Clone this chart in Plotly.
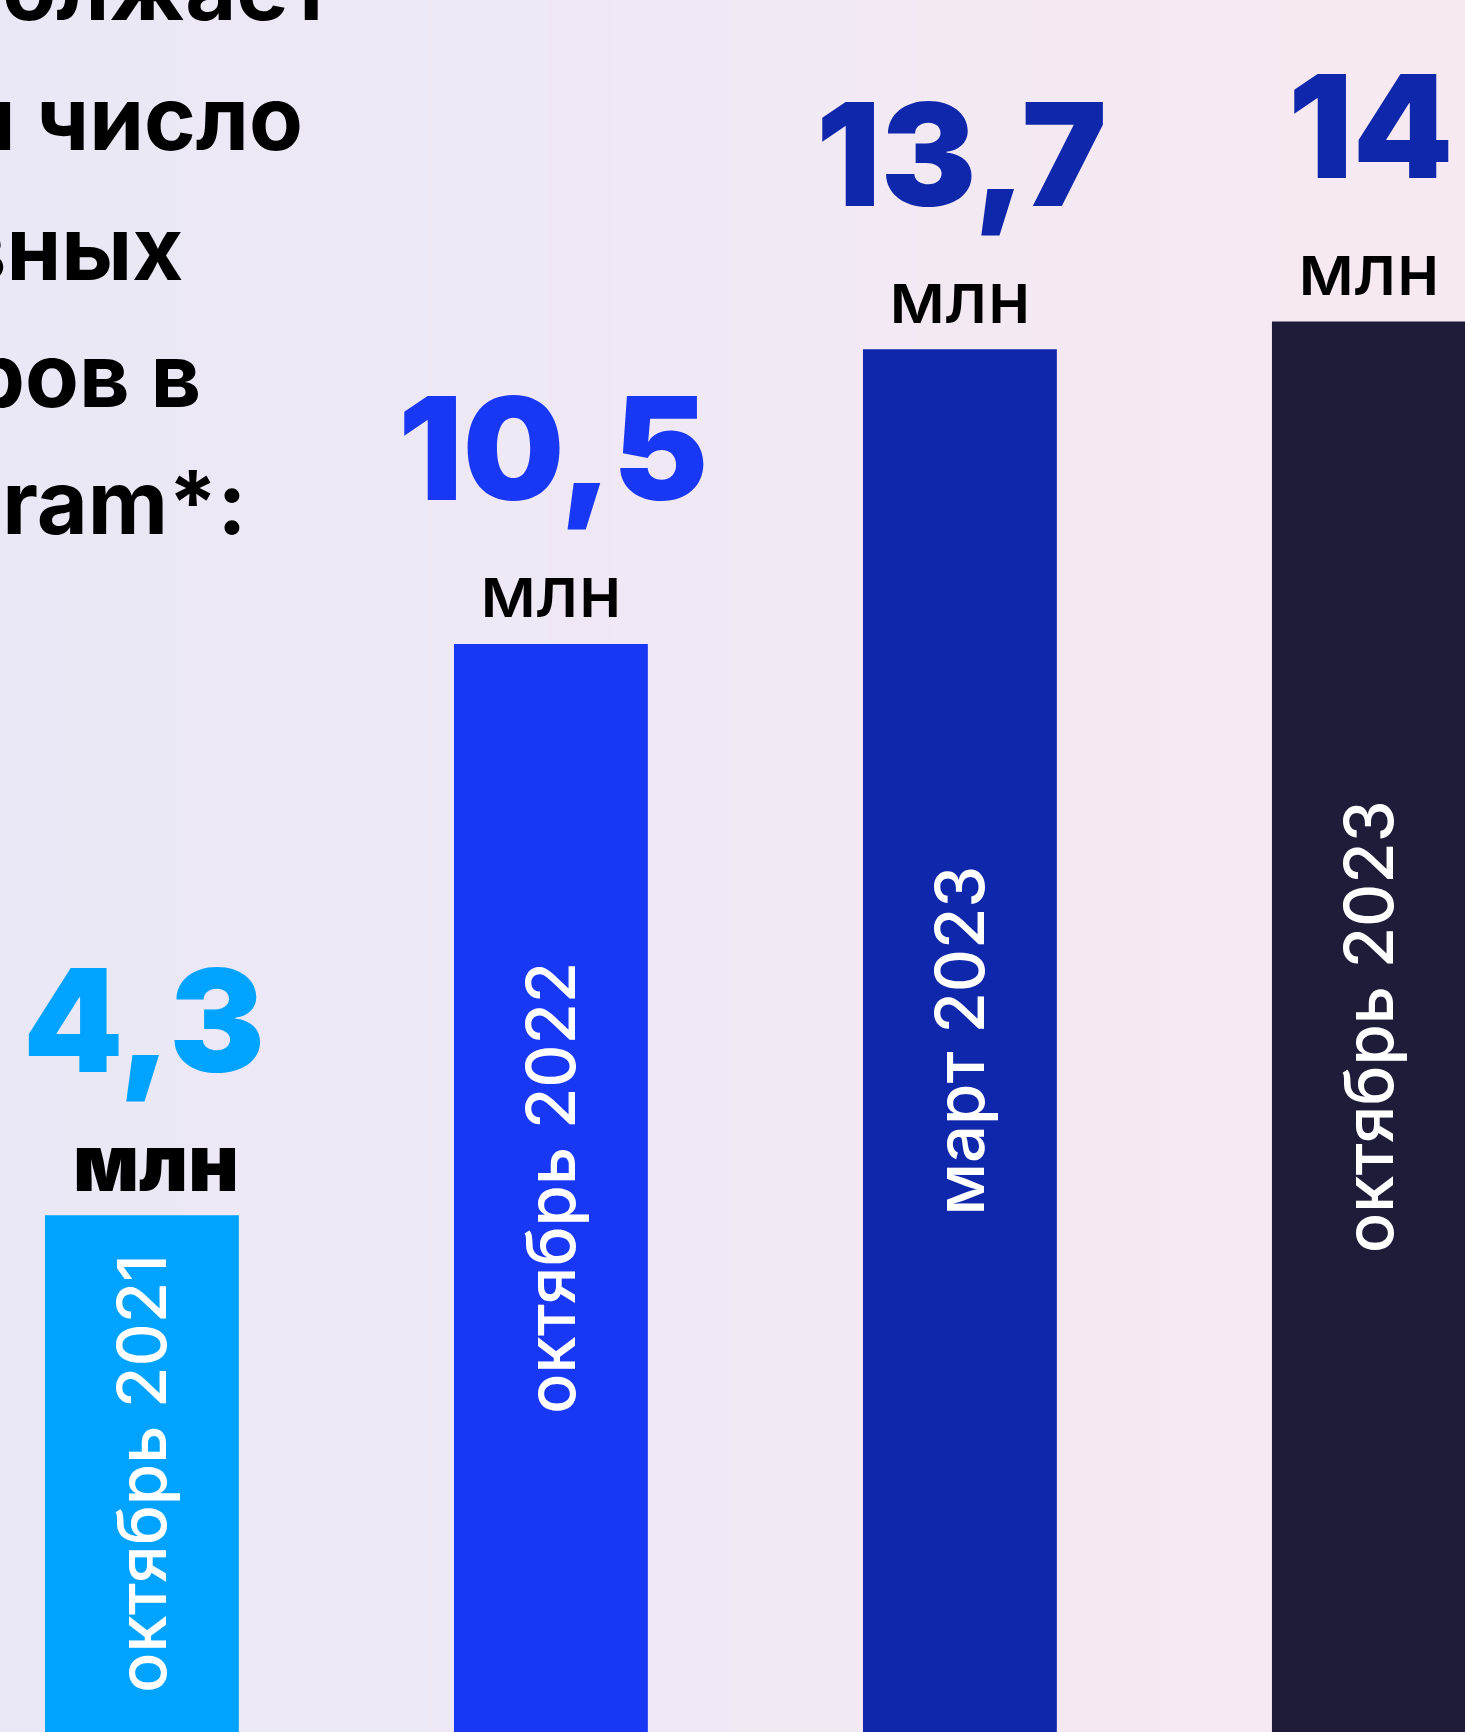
import plotly.graph_objects as go

# ---- data ----
categories = ["октябрь 2021", "октябрь 2022", "март 2023", "октябрь 2023"]
values = [4.3, 10.5, 13.7, 14]
value_labels = ["4,3", "10,5", "13,7", "14"]
unit_label = "млн"
headline_lines = ["продолжает", "расти число", "активных", "авторов в", "Instagram*:"]

# ---- styles ----
bar_colors = ["#00A3FF", "#1838F5", "#0F27AB", "#1F1C3A"]
number_colors = ["#00A3FF", "#1838F5", "#0F27AB", "#0F27AB"]
W, H = 1465, 1732
Y_MIN, Y_MAX = -1.31, 17.49
X_MIN, X_MAX = -0.347, 3.235

fig = go.Figure()
fig.add_trace(go.Bar(
    x=categories,
    y=[v - Y_MIN for v in values],
    base=Y_MIN,
    width=0.474,
    marker=dict(color=bar_colors, line=dict(width=0)),
    text=categories,
    textposition="inside",
    insidetextanchor="middle",
    textangle=-90,
    constraintext="none",
    textfont=dict(family="Inter", size=67, color="white", weight=450),
    hoverinfo="skip",
))

annotations = []
for i, (cat, v) in enumerate(zip(categories, values)):
    annotations.append(dict(
        x=cat, y=v, xref="x", yref="y", text=value_labels[i], showarrow=False,
        xanchor="center", yanchor="middle", yshift=196, xshift=2,
        font=dict(family="Inter", size=143, color=number_colors[i], weight=900),
    ))
    annotations.append(dict(
        x=cat, y=v, xref="x", yref="y", text=unit_label, showarrow=False,
        xanchor="center", yanchor="middle", yshift=53, xshift=14 if i == 0 else 0,
        font=dict(family="Inter", size=72 if i else 78, color="black",
                  weight=900 if i == 0 else 500),
    ))

# headline text (clipped by the left edge, as in the original)
line_right = [336, 305, 185, 203, 249]
line_center_px = [-12, 118, 248, 375, 502]
for txt, xr, yc in zip(headline_lines, line_right, line_center_px):
    annotations.append(dict(
        x=xr / W, y=1 - yc / H, xref="paper", yref="paper", text=txt,
        showarrow=False, xanchor="right", yanchor="middle",
        font=dict(family="Inter", size=88, color="black", weight=700),
    ))

# background gradient bands
left = (234, 232, 246)
right = (247, 233, 242)
n = 24
shapes = []
for k in range(n):
    t = k / (n - 1)
    c = tuple(round(left[j] + (right[j] - left[j]) * t) for j in range(3))
    shapes.append(dict(type="rect", xref="paper", yref="paper",
                       x0=k / n, x1=(k + 1) / n + 0.002, y0=0, y1=1,
                       fillcolor="rgb(%d,%d,%d)" % c, line=dict(width=0), layer="below"))

fig.update_layout(
    width=W, height=H,
    margin=dict(l=0, r=0, t=0, b=0),
    paper_bgcolor="rgb(240,233,244)",
    plot_bgcolor="rgba(0,0,0,0)",
    showlegend=False,
    annotations=annotations,
    shapes=shapes,
    xaxis=dict(range=[X_MIN, X_MAX], visible=False, fixedrange=True),
    yaxis=dict(range=[Y_MIN, Y_MAX], visible=False, fixedrange=True),
)

fig.write_html(
    "out.html",
    config={"displayModeBar": False},
    post_script="document.body.style.margin='0px';document.body.style.overflow='hidden';",
)
